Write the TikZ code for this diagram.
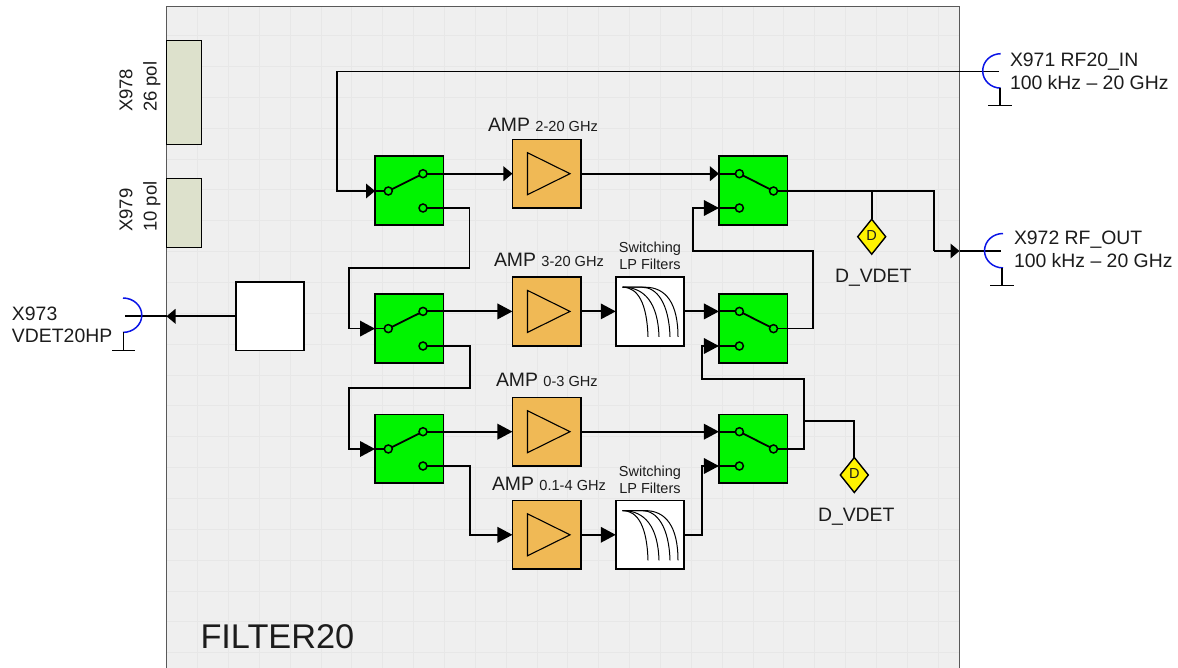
\documentclass[tikz,border=0pt]{standalone}
\usepackage{fontspec}
\setmainfont{Liberation Sans}
\usetikzlibrary{arrows.meta,shapes.geometric,calc}
\definecolor{board}{HTML}{EFEFEF}
\definecolor{gridc}{HTML}{E7E7E7}
\definecolor{swgreen}{HTML}{00F400}
\definecolor{ampor}{HTML}{F0B955}
\definecolor{conn}{HTML}{DDE1CC}
\definecolor{arcblue}{HTML}{0A14E6}
\definecolor{txt}{HTML}{1C1C1C}
\tikzset{
  x=1pt,y=-1pt,
  boxbase/.style={draw=black,line width=1.7pt,minimum size=68.5pt,inner sep=0pt,outer sep=0pt},
  swbox/.style={boxbase,fill=swgreen},
  ampbox/.style={boxbase,fill=ampor},
  filtbox/.style={boxbase,fill=white},
  whitebox/.style={boxbase,fill=white},
  contact/.style={circle,draw=black,fill=swgreen,line width=1.5pt,minimum size=8pt,inner sep=0pt,outer sep=0pt},
  wire/.style={line width=1.8pt,draw=black},
  arrL/.style={-{Triangle[length=15pt,width=15.5pt]}},
  arrS/.style={-{Triangle[length=9pt,width=14.5pt]}},
  connbox/.style={draw=black,line width=1pt,fill=conn,minimum width=34.5pt,inner sep=0pt,outer sep=0pt},
  detect/.style={diamond,draw=black,fill=yellow,line width=1.4pt,minimum width=28pt,minimum height=35pt,inner sep=0pt,outer sep=0pt,font=\fontsize{14.5}{16}\selectfont,text=txt},
  lbl/.style={inner sep=0pt,outer sep=0pt,text=txt,font=\fontsize{19.4}{22.7}\selectfont},
  small/.style={lbl,font=\fontsize{14.5}{17}\selectfont,align=center},
  blue arc/.style={draw=arcblue,line width=1.5pt},
  gnd/.style={draw=black,line width=1.4pt},
}
\newcommand{\smallr}[1]{{\fontsize{14.6}{17}\selectfont #1}}
\begin{document}
\begin{tikzpicture}
\useasboundingbox (0,0) rectangle (1178,668);
\begin{scope}
\clip (0,0) rectangle (1178,668);
% board
\fill[board] (166.5,7) rectangle (959.5,680);
\foreach \i in {0,...,24} {
  \draw[gridc,line width=.8pt] ({197.6+30.85*\i},7) -- ({197.6+30.85*\i},668);
}
\foreach \i in {0,...,20} {
  \draw[gridc,line width=.8pt] (166.5,{652.6-30.85*\i}) -- (959.5,{652.6-30.85*\i});
}
\draw[draw=black!65,line width=1pt] (166.5,680) -- (166.5,7) -- (959.5,7) -- (959.5,680);
\end{scope}
% connector blocks
\node[connbox,minimum height=104pt] (x978) at (184,93) {};
\node[connbox,minimum height=69pt] (x979) at (184,213) {};
\node[lbl,rotate=90,align=left,anchor=base west,font=\fontsize{18.5}{24.4}\selectfont] (x978t) at (156.7,112) {X978\\26 pol};
\node[lbl,rotate=90,align=left,anchor=base west,font=\fontsize{18.5}{24.4}\selectfont] (x979t) at (156.7,231.7) {X979\\10 pol};
% switches
\node[swbox] (s1) at (409.3,190.6) {};
\node[swbox] (s2) at (409.3,328.6) {};
\node[swbox] (s3) at (409.3,448.6) {};
\node[swbox] (r1) at (753.2,190.6) {};
\node[swbox] (r2) at (753.2,328.6) {};
\node[swbox] (r3) at (753.2,448.6) {};
% amplifiers
\node[ampbox] (a1) at (546.7,173.7) {};
\node[ampbox] (a2) at (546.7,311.4) {};
\node[ampbox] (a3) at (546.7,431.7) {};
\node[ampbox] (a4) at (546.7,534.8) {};
\foreach \n in {a1,a2,a3,a4} {
  \draw[line width=1.1pt] ([shift={(-19.2,-21)}]\n.center) -- ([shift={(23.3,0)}]\n.center) -- ([shift={(-19.2,21)}]\n.center) -- cycle;
}
% filters
\node[filtbox] (f1) at (650,311.4) {};
\node[filtbox] (f2) at (650,534.8) {};
\foreach \n in {f1,f2} {
  \begin{scope}[shift={(\n.center)},line width=1pt]
    \draw (-27.5,-24.2) .. controls (-12,-24.2) and (-3,-8) .. (-2,25.5);
    \draw (-27.5,-24.2) .. controls (-5,-24.2) and (8,-8) .. (9,25.5);
    \draw (-27.5,-24.2) -- (-8,-24.2) .. controls (7,-24.2) and (19,-8) .. (20,25.5);
    \draw (-27.5,-24.2) -- (-5,-24.2) .. controls (16,-24.2) and (28,-8) .. (28,25.5);
  \end{scope}
}
% other box
\node[whitebox] (vd) at (270,316.3) {};
% detectors
\node[detect] (d1) at (871.7,236.7) {\raisebox{3pt}{D}};
\node[detect] (d2) at (854.3,475) {\raisebox{3pt}{D}};
% port reference points
\coordinate (p1) at (999,71.5);
\coordinate (p2) at (1001,251);
\coordinate (p3) at (125,316.3);
% contacts
\node[contact] (s1a) at (388.3,191) {};
\node[contact] (s1b) at (423,173.7) {};
\node[contact] (s1c) at (423,208) {};
\node[contact] (s2a) at (388.3,328.6) {};
\node[contact] (s2b) at (423,311.4) {};
\node[contact] (s2c) at (423,346) {};
\node[contact] (s3a) at (388.3,449) {};
\node[contact] (s3b) at (423,431.7) {};
\node[contact] (s3c) at (423,466) {};
\node[contact] (r1a) at (739.4,173.7) {};
\node[contact] (r1b) at (773.5,191) {};
\node[contact] (r1c) at (739.4,208) {};
\node[contact] (r2a) at (739.4,311.4) {};
\node[contact] (r2b) at (773.5,328.6) {};
\node[contact] (r2c) at (739.4,346) {};
\node[contact] (r3a) at (739.4,431.7) {};
\node[contact] (r3b) at (773.5,449) {};
\node[contact] (r3c) at (739.4,466) {};
% switch arms and stubs
\foreach \s in {s1,s2,s3} {
  \draw[wire] (\s a) -- (\s b);
  \draw[wire] (\s.west |- \s a) -- (\s a);
}
\foreach \s in {r1,r2,r3} {
  \draw[wire] (\s a) -- (\s b);
  \draw[wire] (\s.west |- \s a) -- (\s a);
  \draw[wire] (\s.west |- \s c) -- (\s c);
}
% signal path
\draw[wire,arrS] (p1) -| (337,191) -- (s1.west |- s1a);
\draw[wire,arrS] (s1b) -- (a1.west |- s1b);
\draw[wire,arrS] (a1.east) -- (r1.west |- r1a);
\draw[wire,arrL] (s1c) -| (469.5,268) -| (348.7,328.6) -- (s2.west |- s2a);
\draw[wire,arrL] (s2b) -- (a2.west |- s2b);
\draw[wire,arrL] (a2.east) -- (f1.west);
\draw[wire,arrL] (f1.east) -- (r2.west |- r2a);
\draw[wire,arrL] (s2c) -| (470,388) -| (348.7,449) -- (s3.west |- s3a);
\draw[wire,arrL] (s3b) -- (a3.west |- s3b);
\draw[wire,arrL] (a3.east) -- (r3.west |- r3a);
\draw[wire,arrL] (s3c) -| (470,534.8) -- (a4.west);
\draw[wire,arrL] (a4.east) -- (f2.west);
\draw[wire,arrL] (f2.east) -| (701.7,466) -- (r3.west |- r3c);
\draw[wire,arrL] (r2b) -| (812.7,251) -| (692.7,208) -- (r1.west |- r1c);
\draw[wire,arrL] (r3b) -| (804,379) -| (701.7,346) -- (r2.west |- r2c);
\draw[wire] (r1b) -| (934,251);
\draw[wire,arrS] (934,251) -- (959.5,251);
\draw[wire] (959.5,251) -- (p2);
\draw[wire] (871.7,191) -- (d1.north);
\draw[wire] (804,421) -| (d2.north);
\draw[wire,arrS] (vd.west) -- (166.5,316.3);
\draw[wire] (166.5,316.3) -- (p3);
% RF connectors
\draw[blue arc] (1000.7,53.7) arc[start angle=-90,end angle=-270,x radius=18,y radius=17.2];
\draw[gnd] (1000,88) -- (1000,105.5) coordinate (g1);
\draw[gnd] ($(g1)+(-12,0)$) -- ($(g1)+(12,0)$);
\draw[blue arc] (1003,233.5) arc[start angle=-90,end angle=-270,x radius=18.5,y radius=17.2];
\draw[gnd] (1002,268) -- (1002,285.7) coordinate (g2);
\draw[gnd] ($(g2)+(-12,0)$) -- ($(g2)+(12,0)$);
\draw[blue arc] (123,298) arc[start angle=-90,end angle=90,x radius=18.8,y radius=17.2];
\draw[gnd] (123.7,332.4) -- (123.7,350.5) coordinate (g3);
\draw[gnd] ($(g3)+(-11.5,0)$) -- ($(g3)+(11.5,0)$);
% labels
\node[lbl,align=left,anchor=base west] (l1) at (1010,89.3) {X971 RF20\_IN\\100 kHz – 20 GHz};
\node[lbl,align=left,anchor=base west] (l2) at (1014,267.7) {X972 RF\_OUT\\100 kHz – 20 GHz};
\node[lbl,align=left,anchor=base west] (l3) at (12,342.7) {X973\\VDET20HP};
\node[lbl,anchor=base west] (t1) at (488,131.5) {AMP \smallr{2-20 GHz}};
\node[lbl,anchor=base west] (t2) at (494,266.7) {AMP \smallr{3-20 GHz}};
\node[lbl,anchor=base west] (t3) at (496,386) {AMP \smallr{0-3 GHz}};
\node[lbl,anchor=base west] (t4) at (492,490) {AMP \smallr{0.1-4 GHz}};
\node[small,anchor=base] (w1) at (650,270) {Switching\\LP Filters};
\node[small,anchor=base] (w2) at (650,493) {Switching\\LP Filters};
\node[lbl,anchor=base west] (v1) at (835,282.7) {D\_VDET};
\node[lbl,anchor=base west] (v2) at (818,521.7) {D\_VDET};
\node[lbl,anchor=base west,font=\fontsize{34.3}{38}\selectfont] (ft) at (200.5,648) {FILTER20};
\end{tikzpicture}
\end{document}
